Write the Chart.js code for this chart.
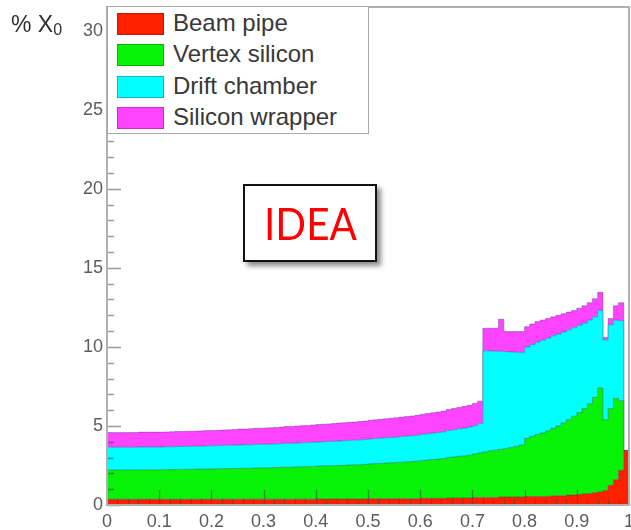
<!DOCTYPE html>
<html>
<head>
<meta charset="utf-8">
<script src="https://cdn.jsdelivr.net/npm/chart.js@4/dist/chart.umd.min.js"></script>
<style>
html,body{margin:0;padding:0;background:#fff;}
#wrap{position:relative;width:631px;height:530px;overflow:hidden;background:#fff;}
#c{position:absolute;left:0;top:0;}
#ytitle{position:absolute;left:11px;top:11px;font:23px "Liberation Sans",Arial,sans-serif;line-height:26px;color:#2e2e2e;white-space:nowrap;}
#ytitle sub{font-size:16px;vertical-align:-3px;line-height:0;}
#legend{position:absolute;left:107px;top:6px;width:262px;height:128px;background:#fff;border:1.5px solid #a9a9a9;box-sizing:border-box;}
.sw{position:absolute;width:47px;height:22px;box-sizing:border-box;border:1px solid rgba(0,0,0,0.25);}
.lt{position:absolute;font:24px "Liberation Sans",Arial,sans-serif;line-height:28px;color:#383838;white-space:nowrap;}
#idea{position:absolute;left:243px;top:184px;width:134px;height:78px;box-sizing:border-box;border:2px solid #111;background:#fff;box-shadow:4px 4px 5px rgba(0,0,0,0.45);display:flex;align-items:center;justify-content:center;}
#idea span{font:44px Lato,"Open Sans",sans-serif;color:#ff0000;line-height:1;display:inline-block;transform:scaleX(0.92);}
</style>
</head>
<body>
<div id="wrap">
<canvas id="c" width="631" height="530"></canvas>
<div id="ytitle">% X<sub>0</sub></div>
<div id="legend"></div>
<div id="idea"><span>IDEA</span></div>
</div>
<script>
// ---- data (bins of width 0.01 on |cos theta|, value in % X0 per component) ----
const binStart = [
0.00,0.01,0.02,0.03,0.04,0.05,0.06,0.07,0.08,0.09,
0.10,0.11,0.12,0.13,0.14,0.15,0.16,0.17,0.18,0.19,
0.20,0.21,0.22,0.23,0.24,0.25,0.26,0.27,0.28,0.29,
0.30,0.31,0.32,0.33,0.34,0.35,0.36,0.37,0.38,0.39,
0.40,0.41,0.42,0.43,0.44,0.45,0.46,0.47,0.48,0.49,
0.50,0.51,0.52,0.53,0.54,0.55,0.56,0.57,0.58,0.59,
0.60,0.61,0.62,0.63,0.64,0.65,0.66,0.67,0.68,0.69,
0.70,0.71,0.72,0.73,0.74,0.75,0.76,0.77,0.78,0.79,
0.80,0.81,0.82,0.83,0.84,0.85,0.86,0.87,0.88,0.89,
0.90,0.91,0.92,0.93,0.94,0.95,0.96,0.97,0.98,0.99];
const xEnd = 1.0;

const beamPipe = [
0.36,0.36,0.36,0.36,0.36,0.36,0.36,0.36,0.36,0.36,
0.36,0.36,0.36,0.36,0.36,0.36,0.36,0.36,0.36,0.36,
0.37,0.37,0.37,0.37,0.37,0.37,0.37,0.37,0.37,0.37,
0.37,0.37,0.37,0.37,0.37,0.37,0.37,0.37,0.37,0.37,
0.38,0.38,0.38,0.38,0.38,0.38,0.38,0.38,0.38,0.38,
0.40,0.40,0.40,0.40,0.40,0.40,0.40,0.40,0.40,0.40,
0.42,0.42,0.42,0.42,0.42,0.45,0.45,0.45,0.45,0.45,
0.48,0.48,0.48,0.48,0.48,0.51,0.51,0.51,0.51,0.51,
0.54,0.54,0.54,0.54,0.54,0.58,0.58,0.58,0.63,0.63,
0.67,0.70,0.73,0.77,0.83,0.92,1.25,1.60,2.20,3.45];

const vertexSilicon = [
1.86,1.86,1.86,1.86,1.86,1.86,1.87,1.87,1.87,1.87,
1.87,1.88,1.88,1.89,1.89,1.90,1.90,1.91,1.91,1.92,
1.92,1.93,1.93,1.94,1.95,1.95,1.96,1.96,1.97,1.98,
1.98,1.99,2.00,2.01,2.02,2.03,2.04,2.05,2.06,2.07,
2.08,2.09,2.10,2.11,2.12,2.13,2.15,2.16,2.17,2.19,
2.20,2.22,2.23,2.25,2.27,2.29,2.31,2.33,2.35,2.37,
2.40,2.43,2.46,2.49,2.52,2.56,2.59,2.63,2.66,2.70,
2.74,2.82,2.89,2.94,2.99,3.01,3.07,3.13,3.21,3.29,
3.68,3.81,3.93,4.02,4.16,4.27,4.42,4.62,4.77,4.99,
5.18,5.40,5.67,6.03,6.57,4.48,4.85,5.15,4.40,0.00];

const driftChamber = [
1.43,1.43,1.43,1.43,1.43,1.43,1.44,1.44,1.44,1.44,
1.44,1.44,1.44,1.45,1.45,1.45,1.45,1.45,1.46,1.46,
1.46,1.46,1.47,1.47,1.47,1.48,1.48,1.48,1.49,1.49,
1.49,1.49,1.50,1.50,1.51,1.51,1.51,1.52,1.52,1.53,
1.53,1.53,1.54,1.54,1.55,1.55,1.56,1.56,1.57,1.57,
1.58,1.58,1.59,1.60,1.60,1.61,1.62,1.62,1.63,1.64,
1.65,1.66,1.67,1.68,1.69,1.70,1.72,1.74,1.76,1.78,
1.80,1.85,6.38,6.32,6.26,6.20,6.12,6.04,5.94,5.84,
5.78,5.80,5.83,5.86,5.85,5.85,5.82,5.75,5.68,5.60,
5.51,5.40,5.30,5.10,4.90,5.05,5.30,4.95,5.05,0.00];

const siliconWrapper = [
0.93,0.93,0.93,0.93,0.93,0.93,0.94,0.94,0.94,0.94,
0.94,0.94,0.95,0.95,0.95,0.95,0.96,0.96,0.96,0.97,
0.97,0.97,0.98,0.98,0.99,1.00,1.00,1.01,1.02,1.02,
1.03,1.04,1.04,1.05,1.06,1.06,1.07,1.08,1.08,1.09,
1.10,1.11,1.11,1.12,1.13,1.14,1.15,1.15,1.16,1.17,
1.18,1.19,1.20,1.21,1.22,1.22,1.23,1.24,1.25,1.26,
1.27,1.28,1.29,1.30,1.31,1.33,1.34,1.35,1.37,1.38,
1.40,1.42,1.43,1.44,1.45,2.03,1.27,1.29,1.31,1.33,
1.28,1.30,1.30,1.28,1.25,1.20,1.18,1.15,1.12,1.08,
1.09,1.10,1.10,1.15,1.15,0.15,0.40,0.90,1.15,0.00];

const seriesLabels = ['Beam pipe', 'Vertex silicon', 'Drift chamber', 'Silicon wrapper'];
const seriesColors = ['#ff2000', '#06f206', '#00ffff', '#ff44ff'];
const yTickLabels = ['0', '5', '10', '15', '20', '25', '30'];
const xTickLabels = ['0', '0.1', '0.2', '0.3', '0.4', '0.5', '0.6', '0.7', '0.8', '0.9', '1'];

// ---- build ----
function toPoints(vals) {
  const pts = binStart.map((x, i) => ({ x: x, y: vals[i] }));
  pts.push({ x: xEnd, y: vals[vals.length - 1] });
  return pts;
}
const seriesValues = [beamPipe, vertexSilicon, driftChamber, siliconWrapper];

const datasets = seriesValues.map((vals, k) => ({
  label: seriesLabels[k],
  data: toPoints(vals),
  backgroundColor: seriesColors[k],
  borderColor: 'rgba(40,40,110,0.35)',
  borderWidth: 1,
  pointRadius: 0,
  stepped: true,
  tension: 0,
  fill: k === 0 ? 'origin' : '-1'
}));

const frameTicks = {
  id: 'frameTicks',
  afterDatasetsDraw(chart) {
    const { ctx, chartArea: a, scales } = chart;
    const x = scales.x, y = scales.y;
    ctx.save();
    ctx.strokeStyle = 'rgba(70,70,70,0.55)';
    ctx.lineWidth = 1.3;
    ctx.beginPath();
    for (let v = 0; v <= 31; v++) {
      const py = Math.round(y.getPixelForValue(v)) + 0.5;
      const len = v % 5 === 0 ? 14 : 7;
      ctx.moveTo(a.left, py);
      ctx.lineTo(a.left + len, py);
    }
    for (let k = 0; k <= 50; k++) {
      const px = Math.round(x.getPixelForValue(k / 50)) + 0.5;
      const len = k % 5 === 0 ? 15 : 6;
      ctx.moveTo(px, a.bottom);
      ctx.lineTo(px, a.bottom - len);
    }
    ctx.stroke();
    ctx.strokeStyle = '#b0b0b0';
    ctx.lineWidth = 2;
    ctx.strokeRect(a.left, a.top, a.right - a.left, a.bottom - a.top);
    ctx.restore();
  }
};

Chart.defaults.font.family = '"Liberation Sans", Arial, sans-serif';

const chart = new Chart(document.getElementById('c'), {
  type: 'line',
  data: { datasets: datasets },
  options: {
    responsive: false,
    devicePixelRatio: 1,
    animation: false,
    layout: { padding: { left: 0, top: 7, right: 2, bottom: 0 } },
    plugins: { legend: { display: false }, tooltip: { enabled: false } },
    scales: {
      x: {
        type: 'linear',
        min: 0,
        max: 1,
        grid: { display: false, drawTicks: false },
        border: { display: false },
        ticks: {
          stepSize: 0.1,
          includeBounds: false,
          autoSkip: false,
          maxRotation: 0,
          padding: 6,
          color: '#5c5c5c',
          font: { size: 18 },
          callback: (v) => xTickLabels[Math.round(v * 10)]
        },
        afterFit: (s) => { s.height = 25; s.paddingLeft = 0; s.paddingRight = 0; }
      },
      y: {
        type: 'linear',
        stacked: true,
        min: 0,
        max: 31.5,
        grid: { display: false, drawTicks: false },
        border: { display: false },
        ticks: {
          stepSize: 5,
          includeBounds: false,
          padding: 4,
          color: '#5c5c5c',
          font: { size: 18 },
          callback: (v) => yTickLabels[Math.round(v / 5)]
        },
        afterFit: (s) => { s.width = 107; s.paddingTop = 0; s.paddingBottom = 0; }
      }
    }
  },
  plugins: [frameTicks]
});

// ---- legend (HTML, from dataset labels/colours) ----
const legend = document.getElementById('legend');
chart.data.datasets.forEach((ds, k) => {
  const top = 12 + k * 31.3;
  const sw = document.createElement('div');
  sw.className = 'sw';
  sw.style.left = (116 - 107) + 'px';
  sw.style.top = (top - 6) + 'px';
  sw.style.background = ds.backgroundColor;
  legend.appendChild(sw);
  const t = document.createElement('div');
  t.className = 'lt';
  t.style.left = (172 - 107) + 'px';
  t.style.top = (top - 6 - 4) + 'px';
  t.textContent = ds.label;
  legend.appendChild(t);
});
</script>
</body>
</html>
